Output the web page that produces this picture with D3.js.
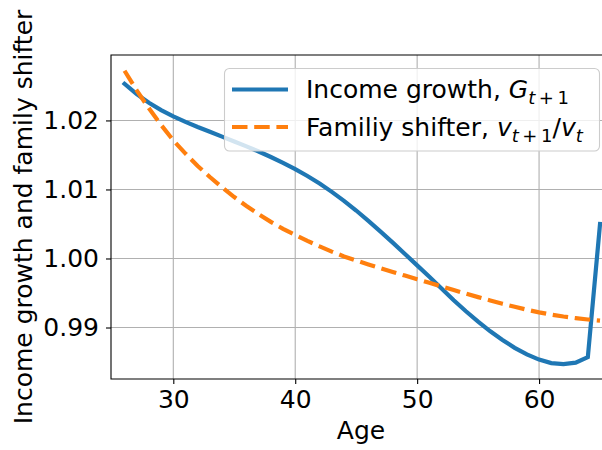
<!DOCTYPE html>
<html>
<head>
    <script src="https://cdn.jsdelivr.net/npm/d3@7"></script>
    <style>
        body { margin: 0; background: #fff; }
        svg { display: block; font-family: 'DejaVu Sans', sans-serif; }
    </style>
</head>
<body>
<div id="chart"></div>
<script>
    // ages 26..65
    var ages = d3.range(26, 66);
    var incomeGrowth = [
        1.0253, 1.0238, 1.02255, 1.0215, 1.0206, 1.0198, 1.01905, 1.01835, 1.01765, 1.01695,
        1.01625, 1.0155, 1.0147, 1.01385, 1.01295, 1.01195, 1.01085, 1.00965, 1.00835, 1.00695,
        1.00545, 1.0039, 1.0023, 1.00065, 0.999, 0.99735, 0.99565, 0.99395, 0.99235, 0.99085,
        0.98945, 0.9882, 0.98705, 0.9861, 0.98535, 0.98485, 0.9847, 0.9849, 0.9857, 1.0050
    ];
    var familyShifter = [
        1.0272, 1.02435, 1.02175, 1.01935, 1.0171, 1.0152, 1.0134, 1.0118, 1.0103, 1.0089,
        1.0076, 1.0064, 1.0053, 1.0043, 1.0034, 1.00255, 1.00175, 1.0010, 1.0003, 0.9997,
        0.99914, 0.99859, 0.99805, 0.99752, 0.9970, 0.99647, 0.99595, 0.99543, 0.99491, 0.9944,
        0.99391, 0.99344, 0.9930, 0.99258, 0.9922, 0.99187, 0.99159, 0.99136, 0.99116, 0.9910
    ];
    var xTicks = [30, 40, 50, 60];
    var yTicks = [0.99, 1.00, 1.01, 1.02];

    var W = 602, H = 450;
    var margin = {left: 111, top: 55, right: 611, bottom: 379};

    var x = d3.scaleLinear().domain([24.89, 65.9]).range([margin.left, margin.right]);
    var y = d3.scaleLinear().domain([0.98254, 1.02948]).range([margin.bottom, margin.top]);

    var svg = d3.select("#chart").append("svg")
        .attr("width", W).attr("height", H);

    svg.append("defs").append("clipPath").attr("id", "plotclip")
        .append("rect")
        .attr("x", margin.left).attr("y", margin.top)
        .attr("width", margin.right - margin.left)
        .attr("height", margin.bottom - margin.top);

    // grid
    svg.append("g").selectAll("line").data(xTicks).enter().append("line")
        .attr("x1", d => x(d)).attr("x2", d => x(d))
        .attr("y1", margin.top).attr("y2", margin.bottom)
        .attr("stroke", "#b0b0b0").attr("stroke-width", 1.1);
    svg.append("g").selectAll("line").data(yTicks).enter().append("line")
        .attr("y1", d => y(d)).attr("y2", d => y(d))
        .attr("x1", margin.left).attr("x2", margin.right)
        .attr("stroke", "#b0b0b0").attr("stroke-width", 1.1);

    var line = d3.line().x(d => x(d[0])).y(d => y(d[1]));

    var plot = svg.append("g").attr("clip-path", "url(#plotclip)");
    plot.append("path")
        .datum(ages.map((a, i) => [a, incomeGrowth[i]]))
        .attr("d", line)
        .attr("fill", "none").attr("stroke", "#1f77b4")
        .attr("stroke-width", 4.2).attr("stroke-linecap", "square");
    plot.append("path")
        .datum(ages.map((a, i) => [a, familyShifter[i]]))
        .attr("d", line)
        .attr("fill", "none").attr("stroke", "#ff7f0e")
        .attr("stroke-width", 4.2).attr("stroke-dasharray", "15.5,6.7");

    // axes
    var xAxis = svg.append("g")
        .attr("transform", "translate(0," + margin.bottom + ")")
        .call(d3.axisBottom(x).tickValues(xTicks).tickSize(5).tickPadding(6).tickFormat(d3.format("d")));
    var yAxis = svg.append("g")
        .attr("transform", "translate(" + margin.left + ",0)")
        .call(d3.axisLeft(y).tickValues(yTicks).tickSize(5).tickPadding(7).tickFormat(d3.format(".2f")));

    [xAxis, yAxis].forEach(function (g) {
        g.selectAll("text").attr("font-size", 25).attr("font-family", "DejaVu Sans").attr("fill", "#000");
        g.selectAll(".tick line").attr("stroke", "#000").attr("stroke-width", 1.1);
        g.select(".domain").remove();
    });

    // spines: left, bottom, top
    svg.append("path")
        .attr("d", "M" + margin.right + "," + margin.top + "H" + margin.left + "V" + margin.bottom + "H" + margin.right)
        .attr("fill", "none").attr("stroke", "#000").attr("stroke-width", 1.1);

    svg.append("text")
        .attr("x", (margin.left + margin.right) / 2).attr("y", 439)
        .attr("text-anchor", "middle").attr("font-size", 25)
        .text("Age");

    svg.append("text")
        .attr("transform", "translate(31.5," + (margin.top + margin.bottom) / 2 + ") rotate(-90)")
        .attr("text-anchor", "middle").attr("font-size", 25)
        .text("Income growth and family shifter");

    // legend
    var leg = svg.append("g");
    leg.append("rect")
        .attr("x", 224.5).attr("y", 68.5).attr("width", 375).attr("height", 82.5)
        .attr("rx", 5).attr("fill", "#fff").attr("fill-opacity", 0.8)
        .attr("stroke", "#cccccc").attr("stroke-width", 1.1);

    var legendItems = [
        {color: "#1f77b4", dash: null, y: 89.5, label: "Income growth, ",
         math: [["G", "italic", 0], ["t", "italic", 1], ["\u2009+\u20091", "normal", 1]]},
        {color: "#ff7f0e", dash: "15.5,6.7", y: 127, label: "Familiy shifter, ",
         math: [["v", "italic", 0], ["t", "italic", 1], ["\u2009+\u20091", "normal", 1], ["/", "normal", 0], ["v", "italic", 0], ["t", "italic", 1]]}
    ];

    legendItems.forEach(function (it) {
        var ln = leg.append("line")
            .attr("x1", 232).attr("x2", 288).attr("y1", it.y).attr("y2", it.y)
            .attr("stroke", it.color).attr("stroke-width", 4.2);
        if (it.dash) ln.attr("stroke-dasharray", it.dash);
        var t = leg.append("text").attr("x", 306).attr("y", it.y + 8.5).attr("font-size", 25);
        t.append("tspan").text(it.label);
        var prevSub = 0;
        it.math.forEach(function (m) {
            var ts = t.append("tspan").text(m[0]).attr("font-style", m[1]);
            var shift = (m[2] - prevSub) * 6;
            if (shift !== 0) ts.attr("dy", shift);
            ts.attr("font-size", m[2] ? 18 : 25);
            prevSub = m[2];
        });
    });
</script>
</body>
</html>
